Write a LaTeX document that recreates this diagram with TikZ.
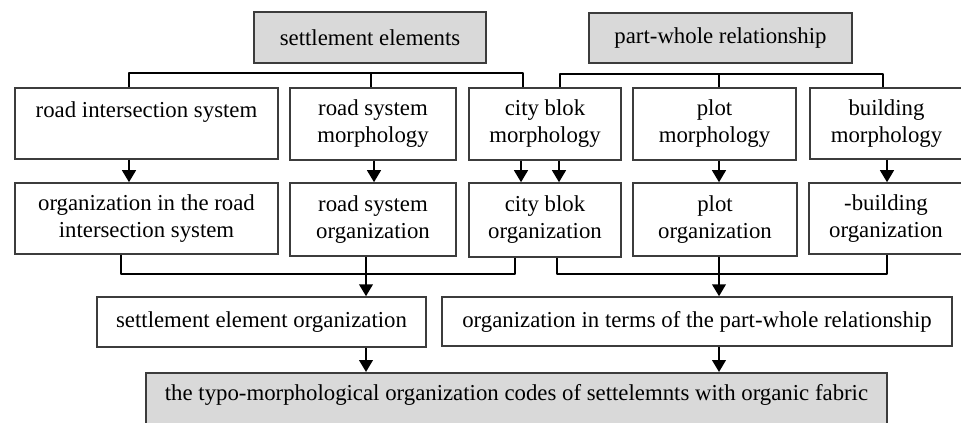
\documentclass[tikz,border=0pt]{standalone}
\usepackage{fontspec}
\setmainfont{Liberation Serif}
\usetikzlibrary{arrows.meta}
\definecolor{boxgray}{RGB}{217,217,217}
\definecolor{edgegray}{RGB}{60,60,60}
\tikzset{
  box/.style={draw=edgegray, line width=0.75pt, fill=white, align=center, inner sep=0pt,
    font=\fontsize{11.4pt}{13.5pt}\selectfont},
  graybox/.style={box, fill=boxgray},
  conn/.style={draw=black, line width=1.15pt, line join=round},
  arr/.style={conn, -{Triangle[length=6pt,width=6.8pt]}}
}
\begin{document}
\begin{tikzpicture}[x=0.5pt,y=-0.5pt]
\useasboundingbox (0,0) rectangle (961,422);
\clip (0,0) rectangle (961,422);
\fill[white] (0,0) rectangle (961,422);
% headers
\node[graybox, minimum width=116pt, minimum height=25.5pt] (se) at (370,37.5) {settlement elements};
\node[graybox, minimum width=131.5pt, minimum height=25pt] (pw) at (720.5,38) {part-whole relationship};
% row 1
\node[box, minimum width=131.5pt, minimum height=35.5pt] (ris) at (146.5,123.5) {road intersection system\\ \mbox{}};
\node[box, minimum width=83pt, minimum height=36pt] (rsm) at (373,124) {road system\\morphology};
\node[box, minimum width=76pt, minimum height=36pt] (cbm) at (545,124) {city blok\\morphology};
\node[box, minimum width=81.5pt, minimum height=36pt] (pm) at (714.5,124) {plot\\morphology};
\node[box, minimum width=76.5pt, minimum height=35.5pt] (bm) at (886.5,123.5) {building\\morphology};
% row 2
\node[box, minimum width=131.5pt, minimum height=35.5pt] (ori) at (146.5,218.5) {organization in the road\\intersection system};
\node[box, minimum width=83pt, minimum height=36.5pt] (rso) at (373,219.5) {road system\\organization};
\node[box, minimum width=76pt, minimum height=37pt] (cbo) at (545,220) {city blok\\organization};
\node[box, minimum width=82pt, minimum height=36.5pt] (po) at (715,219.5) {plot\\organization};
\node[box, minimum width=77pt, minimum height=35.5pt] (bo) at (886,218.5) {-building\\organization};
% row 3
\node[box, minimum width=164.5pt, minimum height=25pt] (seo) at (261.5,322) {settlement element organization};
\node[box, minimum width=255pt, minimum height=24.5pt] (otp) at (697,321.5) {organization in terms of the part-whole relationship};
% final
\node[graybox, anchor=north, minimum width=370.5pt, text height=14pt, text depth=20pt] (final) at (516.5,372)
  {the typo-morphological organization codes of settelemnts with organic fabric};
% junction coordinates
\coordinate (j1) at (129,73);
\coordinate (j2) at (371,73);
\coordinate (j3) at (523,73);
\coordinate (k1) at (560,74);
\coordinate (k2) at (719,74);
\coordinate (k3) at (883,74);
\coordinate (a1) at (129,0);
\coordinate (a2) at (374,0);
\coordinate (a3) at (521,0);
\coordinate (a4) at (559,0);
\coordinate (a5) at (719,0);
\coordinate (a6) at (887,0);
\coordinate (b1) at (121,274);
\coordinate (b2) at (366,274);
\coordinate (b3) at (515,274);
\coordinate (c1) at (557,274);
\coordinate (c2) at (719,274);
\coordinate (c3) at (887,274);
% top brackets
\draw[conn] (j1 |- ris.north) -- (j1) -- (j3) -- (j3 |- cbm.north);
\draw[conn] (j2) -- (j2 |- rsm.north);
\draw[conn] (k1 |- cbm.north) -- (k1) -- (k3) -- (k3 |- bm.north);
\draw[conn] (k2) -- (k2 |- pm.north);
% row1 -> row2
\draw[arr] (a1 |- ris.south) -- (a1 |- ori.north);
\draw[arr] (a2 |- rsm.south) -- (a2 |- rso.north);
\draw[arr] (a3 |- cbm.south) -- (a3 |- cbo.north);
\draw[arr] (a4 |- cbm.south) -- (a4 |- cbo.north);
\draw[arr] (a5 |- pm.south) -- (a5 |- po.north);
\draw[arr] (a6 |- bm.south) -- (a6 |- bo.north);
% bottom brackets
\draw[conn] (b1 |- ori.south) -- (b1) -- (b3) -- (b3 |- cbo.south);
\draw[arr] (b2 |- rso.south) -- (b2 |- seo.north);
\draw[conn] (c1 |- cbo.south) -- (c1) -- (c3) -- (c3 |- bo.south);
\draw[arr] (c2 |- po.south) -- (c2 |- otp.north);
% to final
\draw[arr] (b2 |- seo.south) -- (b2 |- final.north);
\draw[arr] (c2 |- otp.south) -- (c2 |- final.north);
\end{tikzpicture}
\end{document}
